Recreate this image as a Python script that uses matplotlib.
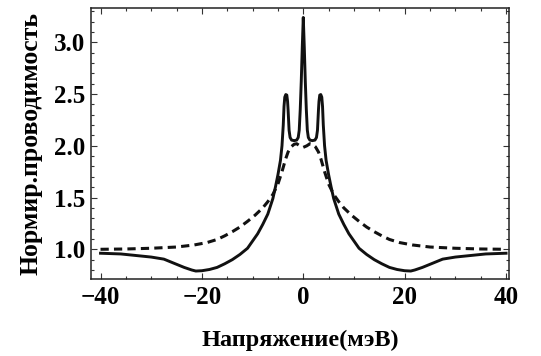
import numpy as np
import matplotlib.pyplot as plt
from matplotlib.ticker import MultipleLocator

plt.rcParams['font.family'] = ['Liberation Serif', 'DejaVu Serif']
plt.rcParams['font.weight'] = 'bold'

# solid curve: normalized conductance vs bias (meV)
v_solid = [-40, -36, -33, -30, -27.5, -25.5, -23.5, -22, -21.2, -20, -18.5, -17,
           -15.5, -14, -12.5, -11, -10, -9, -8, -7, -6, -5.5, -5, -4.5, -4.2,
           -3.95, -3.8, -3.65, -3.45, -3.25, -3.1, -3.0, -2.8, -2.6, -2.3, -1.8,
           -1.3, -1.0, -0.8, -0.6, -0.4, -0.2, 0,
           0.2, 0.4, 0.6, 0.8, 1.0, 1.3, 1.8, 2.3, 2.6, 2.8, 3.0, 3.1, 3.25,
           3.45, 3.65, 3.8, 3.95, 4.2, 4.5, 5, 5.5, 6, 7, 8, 9, 10, 11, 12.5,
           14, 15.5, 17, 18.5, 20, 21.2, 22, 23.5, 25.5, 27.5, 30, 33, 36, 40]
g_solid = [0.962, 0.955, 0.94, 0.925, 0.905, 0.865, 0.825, 0.8, 0.79, 0.793, 0.805,
           0.825, 0.86, 0.9, 0.95, 1.01, 1.08, 1.15, 1.24, 1.34, 1.49, 1.6, 1.72,
           1.86, 2.0, 2.2, 2.38, 2.47, 2.495, 2.49, 2.43, 2.35, 2.15, 2.08, 2.055,
           2.05, 2.055, 2.08, 2.15, 2.35, 2.62, 2.95, 3.24,
           2.95, 2.62, 2.35, 2.15, 2.08, 2.055, 2.05, 2.055, 2.08, 2.15, 2.35,
           2.43, 2.49, 2.495, 2.47, 2.38, 2.2, 2.0, 1.86, 1.72, 1.6, 1.49, 1.34,
           1.24, 1.15, 1.08, 1.01, 0.95, 0.9, 0.86, 0.825, 0.805, 0.793, 0.79,
           0.8, 0.825, 0.865, 0.905, 0.925, 0.94, 0.955, 0.962]

# dashed curve
v_dash = [-40, -35, -30, -25, -21.5, -19, -17, -15.5, -14, -12.5, -11, -9.5, -8,
          -7, -6, -5, -4.2, -3.5, -3, -2.4, -1.8, -1.3, -0.7, 0,
          0.7, 1.3, 1.8, 2.4, 3, 3.5, 4.2, 5, 6, 7, 8, 9.5, 11, 12.5, 14, 15.5,
          17, 19, 21.5, 25, 30, 35, 40]
g_dash = [1.0, 1.003, 1.01, 1.022, 1.042, 1.065, 1.095, 1.13, 1.17, 1.215, 1.27,
          1.33, 1.4, 1.46, 1.53, 1.63, 1.75, 1.87, 1.94, 1.99, 2.015, 2.02,
          2.0, 1.985,
          2.0, 2.02, 2.015, 1.99, 1.94, 1.87, 1.75, 1.63, 1.53, 1.46, 1.4,
          1.33, 1.27, 1.215, 1.17, 1.13, 1.095, 1.065, 1.042, 1.022, 1.01,
          1.003, 1.0]

fig = plt.figure(figsize=(5.41, 3.56), dpi=100)
ax = fig.add_axes([0.168, 0.216, 0.773, 0.762])

ax.plot(v_dash, g_dash, color='#111111', lw=2.2, ls=(0, (2.7, 1.7)))
ax.plot(v_solid, g_solid, color='#111111', lw=2.1, solid_joinstyle='round')

ax.set_xlim(-41.9, 40.6)
ax.set_ylim(0.712, 3.333)

ax.xaxis.set_major_locator(MultipleLocator(20))
ax.xaxis.set_minor_locator(MultipleLocator(5))
ax.yaxis.set_major_locator(MultipleLocator(0.5))
ax.yaxis.set_minor_locator(MultipleLocator(0.1))
ax.yaxis.set_major_formatter(plt.FuncFormatter(lambda v, p: '%.1f' % v))
ax.xaxis.set_major_formatter(plt.FuncFormatter(
    lambda v, p: ('\u2212%d' % -v) if v < 0 else '%d' % v))

ax.tick_params(which='both', direction='in', top=True, right=True,
               labelsize=18, color='#333333', width=0.8)
ax.tick_params(axis='y', which='major', length=4.5, pad=4)
ax.tick_params(axis='x', which='major', length=4.5, pad=5)
ax.tick_params(which='minor', length=2.5)
for s in ax.spines.values():
    s.set_linewidth(1.1)
    s.set_color('#222222')

ax.set_xlabel('Напряжение(мэВ)', fontsize=17.5, fontweight='bold', labelpad=15)
ax.set_ylabel('Нормир.проводимость', fontsize=18.5, fontweight='bold', labelpad=8)

fig.savefig('out.png', dpi=100)
